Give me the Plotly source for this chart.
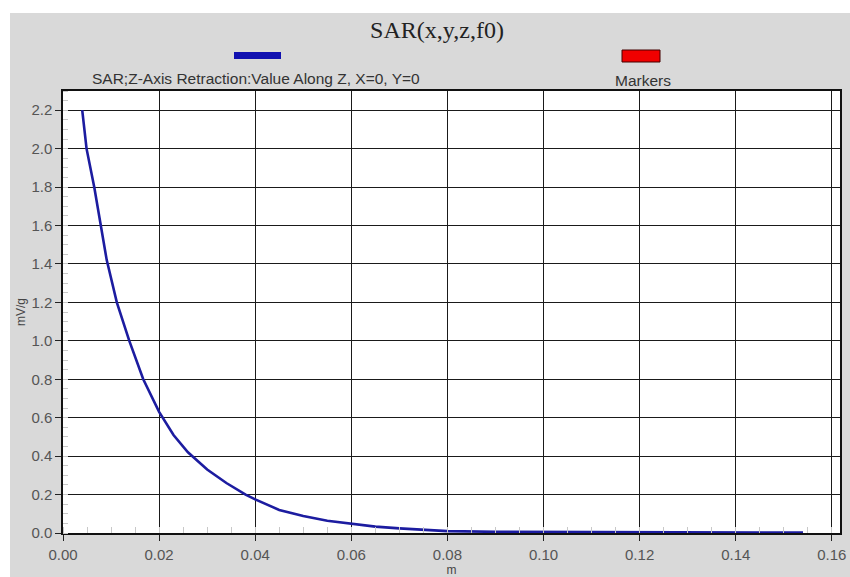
import plotly.graph_objects as go

# Data
z_m = [0.0040, 0.0049, 0.0065, 0.0078, 0.0091, 0.0112, 0.0138, 0.0167, 0.0200,
       0.0230, 0.0260, 0.0300, 0.0340, 0.0380, 0.0400, 0.0450, 0.0500, 0.0550,
       0.0600, 0.0650, 0.0700, 0.0750, 0.0800, 0.0900, 0.1000, 0.1100, 0.1200,
       0.1300, 0.1400, 0.1450, 0.1500, 0.1540]
sar_mvg = [2.20, 2.00, 1.80, 1.60, 1.42, 1.20, 1.00, 0.80, 0.63,
           0.51, 0.42, 0.33, 0.26, 0.20, 0.175, 0.12, 0.088, 0.064,
           0.047, 0.033, 0.024, 0.016, 0.010, 0.006, 0.005, 0.004, 0.004,
           0.004, 0.002, 0.004, 0.003, 0.002]

x_ticks = [0.00, 0.02, 0.04, 0.06, 0.08, 0.10, 0.12, 0.14, 0.16]
y_ticks = [0.0, 0.2, 0.4, 0.6, 0.8, 1.0, 1.2, 1.4, 1.6, 1.8, 2.0, 2.2]

series_name = "SAR;Z-Axis Retraction:Value Along Z, X=0, Y=0"
marker_name = "Markers"
title_text = "SAR(x,y,z,f0)"

W, H = 850, 577
L, R, T, B = 63, 10, 91, 44
PW, PH = W - L - R, H - T - B


def px(xp):
    return (xp - L) / PW


def py(yp):
    return (H - B - yp) / PH


fig = go.Figure()
fig.add_trace(go.Scatter(x=z_m, y=sar_mvg, mode="lines",
                         line=dict(color="#1c1ca0", width=2.6),
                         showlegend=False, name=series_name))

axis_common = dict(showline=True, linecolor="#111", linewidth=1.5, mirror=True,
                   showgrid=True, gridcolor="#1a1a1a", gridwidth=1.4,
                   zeroline=False, ticks="outside", ticklen=6, tickcolor="#222",
                   tickwidth=1.2, automargin=False,
                   tickfont=dict(family="Liberation Sans, Arial", size=15, color="#555"))

fig.update_xaxes(range=[0, 0.1617], tickvals=x_ticks, tickformat=".2f",
                 ticklabelstandoff=1,
                 minor=dict(dtick=0.005, ticks="inside", ticklen=6,
                            tickcolor="#c8c8c8", showgrid=False),
                 title=dict(text="m", standoff=5,
                            font=dict(family="Liberation Sans, Arial", size=12, color="#444")),
                 **axis_common)
fig.update_yaxes(range=[0, 2.3], tickvals=y_ticks, tickformat=".1f",
                 minor=dict(dtick=0.05, ticks="inside", ticklen=5,
                            tickcolor="#c8c8c8", showgrid=False),
                 title=dict(text="mV/g", standoff=3,
                            font=dict(family="Liberation Sans, Arial", size=12, color="#444")),
                 **axis_common)

shapes = [
    # white outer border strips (left and top)
    dict(type="rect", xref="paper", yref="paper", x0=px(0), x1=px(10), y0=py(H), y1=py(0),
         fillcolor="white", line=dict(width=0), layer="above"),
    dict(type="rect", xref="paper", yref="paper", x0=px(0), x1=px(W), y0=py(13), y1=py(0),
         fillcolor="white", line=dict(width=0), layer="above"),
    # legend swatches
    dict(type="rect", xref="paper", yref="paper", x0=px(234), x1=px(281), y0=py(59), y1=py(52),
         fillcolor="#1010b0", line=dict(width=0)),
    dict(type="rect", xref="paper", yref="paper", x0=px(622), x1=px(660), y0=py(62), y1=py(50),
         fillcolor="#f00000", line=dict(color="#400", width=1)),
]

annotations = [
    dict(text=series_name, xref="paper", yref="paper", x=px(256), y=py(78),
         showarrow=False, xanchor="center", yanchor="middle",
         font=dict(family="Liberation Sans, Arial", size=15.5, color="#333")),
    dict(text=marker_name, xref="paper", yref="paper", x=px(643), y=py(80),
         showarrow=False, xanchor="center", yanchor="middle",
         font=dict(family="Liberation Sans, Arial", size=15.5, color="#333")),
]

fig.update_layout(
    width=W, height=H,
    margin=dict(l=L, r=R, t=T, b=B),
    paper_bgcolor="#d9d9d9", plot_bgcolor="white",
    title=dict(text=title_text, x=437 / W, xanchor="center", y=1 - 30 / H, yanchor="middle",
               xref="container", yref="container",
               font=dict(family="Liberation Serif, Times New Roman", size=24, color="#222")),
    shapes=shapes, annotations=annotations,
)

# remove the page's default body margin so the figure fills the window exactly
fig.write_html("out.html", config={"displayModeBar": False},
               post_script="document.body.style.margin='0';document.body.style.overflow='hidden';")
